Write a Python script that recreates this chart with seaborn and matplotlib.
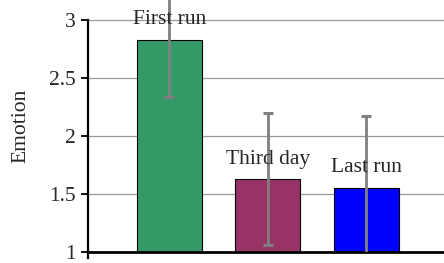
import seaborn as sns
import pandas as pd
import matplotlib.pyplot as plt

conditions = ['First run', 'Third day', 'Last run']
emotion = [2.83, 1.627, 1.552]
emotion_err = [0.49, 0.57, 0.62]
bar_colors = ['#339966', '#993366', '#0000FF']
y_ticks = [1, 1.5, 2, 2.5, 3]
y_tick_labels = ['1', '1.5', '2', '2.5', '3']

df = pd.DataFrame({'Condition': conditions, 'Emotion': emotion})

sns.set_style('white')
plt.rcParams['font.family'] = ['Liberation Serif', 'DejaVu Serif']

fig = plt.figure(figsize=(4.44, 2.63), dpi=100)
ax = fig.add_axes([0.198, 0.042, 0.802, 0.958])

sns.barplot(data=df, x='Condition', y='Emotion', hue='Condition',
            palette=bar_colors, saturation=1, legend=False, width=0.66,
            edgecolor='black', linewidth=0.8, ax=ax, zorder=2)

ax.errorbar(range(len(conditions)), emotion, yerr=emotion_err, fmt='none',
            ecolor='#808080', elinewidth=2, capsize=3.6, capthick=2.2, zorder=3)

for i, (name, val) in enumerate(zip(conditions, emotion)):
    ax.annotate(name, (i, val), xytext=(0, 14.5), textcoords='offset points',
                ha='center', va='center', fontsize=15.5, zorder=4)

ax.set_xlim(-0.827, 2.787)
ax.set_ylim(1, 3.172)
ax.set_yticks(y_ticks)
ax.set_yticklabels(y_tick_labels, fontsize=15.5)
ax.set_xticks([])
ax.set_xlabel('')
ax.set_ylabel('Emotion', fontsize=15.5, labelpad=13)

ax.yaxis.grid(True, color='#999999', linewidth=0.9, zorder=0)
ax.set_axisbelow(True)
ax.tick_params(axis='y', direction='out', length=5, width=1.3, color='black',
               left=True, pad=4)

for side in ['top', 'right']:
    ax.spines[side].set_visible(False)
ax.spines['left'].set_color('black')
ax.spines['left'].set_linewidth(1.6)
ax.spines['left'].set_bounds(0.948, 3)
ax.spines['bottom'].set_color('black')
ax.spines['bottom'].set_linewidth(2)

fig.savefig('out.png', dpi=100)
